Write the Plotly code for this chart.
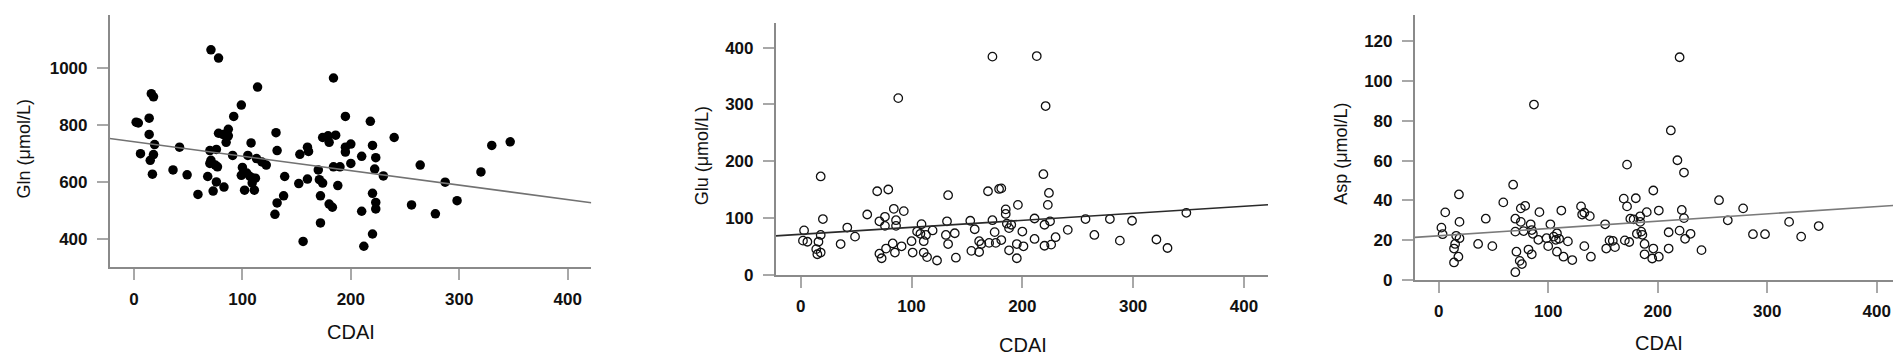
import numpy as np
import plotly.graph_objects as go

# ---------------- data ----------------
gln_cdai = [2, 4, 6, 14, 14, 16, 18, 19, 18, 15, 17, 36, 42, 49, 59, 71, 78, 68, 70, 71,
            70, 73, 76, 75, 77, 76, 78, 82, 83, 85, 87, 87, 91, 92, 99, 99, 100, 102, 104, 105,
            107, 108, 109, 110, 111, 112, 114, 113, 118, 122, 130, 131, 132, 132, 138, 139, 152, 153, 156, 160,
            161, 160, 170, 171, 174, 172, 172, 174, 179, 180, 180, 183, 184, 186, 184, 188, 190, 195, 195, 195,
            200, 200, 210, 210, 212, 218, 220, 220, 220, 222, 223, 223, 223, 230, 240, 256, 264, 278, 287, 298,
            320, 330, 347]
gln = [811, 808, 700, 825, 768, 911, 900, 732, 697, 677, 628, 643, 723, 626, 557, 1065, 1036, 620, 711, 677,
       666, 569, 715, 660, 654, 601, 772, 768, 583, 740, 786, 763, 694, 831, 871, 624, 652, 572, 632, 694,
       620, 738, 597, 614, 572, 614, 934, 683, 671, 660, 487, 774, 711, 527, 552, 620, 595, 698, 392, 723,
       708, 611, 643, 609, 597, 552, 457, 757, 763, 740, 523, 512, 966, 765, 654, 588, 654, 831, 723, 706,
       734, 666, 691, 498, 375, 814, 729, 561, 418, 646, 686, 529, 506, 622, 757, 520, 660, 489, 600, 535,
       636, 729, 742]

glu_cdai = [3, 2, 6, 18, 20, 18, 16, 14, 15, 18, 36, 42, 49, 60, 69, 71, 71, 73, 76, 76,
            77, 79, 83, 84, 86, 86, 85, 88, 91, 93, 100, 101, 105, 109, 108, 111, 111, 114, 113, 119,
            123, 131, 132, 133, 133, 139, 140, 153, 154, 157, 161, 161, 163, 169, 170, 173, 173, 175, 176, 179,
            181, 181, 185, 185, 186, 188, 190, 188, 196, 195, 195, 200, 201, 211, 211, 213, 219, 221, 220, 220,
            223, 224, 225, 226, 230, 241, 257, 265, 279, 288, 299, 321, 331, 348]
glu = [78, 60, 58, 173, 98, 70, 58, 45, 36, 39, 54, 83, 67, 106, 147, 94, 37, 29, 102, 86,
       46, 150, 55, 116, 86, 96, 39, 311, 50, 112, 59, 39, 76, 89, 72, 59, 39, 31, 70, 78,
       25, 70, 94, 54, 140, 73, 30, 95, 42, 80, 59, 40, 54, 147, 56, 384, 96, 75, 56, 151,
       152, 61, 115, 107, 90, 82, 88, 43, 123, 54, 29, 76, 50, 99, 63, 385, 177, 297, 88, 51,
       123, 144, 94, 53, 66, 79, 98, 70, 98, 60, 95, 62, 47, 109]

asp_cdai = [2.5, 3.6, 6, 14, 14, 15, 16, 18, 18.5, 19, 19, 36, 43, 49, 59, 68, 70, 70, 71, 70,
            74, 76, 75, 75, 77.5, 79, 82, 84, 85, 85, 86, 87, 91, 92, 98.5, 100, 102, 105, 107, 108,
            108, 110, 112, 114, 118, 122, 130, 131, 133, 133, 138, 139, 152, 153, 156, 159, 161, 169, 170, 172,
            172, 174, 175, 178, 180, 181, 184, 184, 185, 186, 188, 188, 190, 196, 196, 195, 201, 201, 210, 210,
            212, 218, 220, 220, 222, 224, 224, 225, 230, 240, 256, 264, 278, 287, 298, 320, 331, 347]
asp = [26.3, 23, 34, 8.8, 15.8, 18.1, 22.2, 11.7, 43, 29.2, 21, 18.1, 30.8, 17, 39, 47.9, 30.8, 24.3, 14.2, 3.9,
       9.6, 8, 36, 29.2, 24.6, 37.3, 15.3, 28, 12.9, 25.1, 23.2, 88.2, 20.2, 34.1, 21, 17, 28, 21.8, 20.2, 14.2,
       23.5, 20.7, 34.9, 11.7, 19.4, 10, 37, 32.9, 17, 33.8, 32.1, 11.7, 28, 15.8, 19.9, 19.7, 16.5, 40.9, 19.9, 58,
       37, 19.1, 30.8, 30.5, 41.1, 23.2, 32, 29.2, 24.3, 22.7, 18.1, 12.9, 34.1, 45, 15.8, 10.8, 34.9, 11.7, 24, 15.8,
       75.2, 60.2, 112, 24.8, 35.2, 54, 31.1, 20.7, 23.2, 15, 40.1, 30, 36, 23, 23, 29.2, 21.8, 27.1]

# fitted regression lines as drawn (intercept at CDAI=0, slope)
fit_intercepts = [742.0, 71.1, 22.2]
fit_slopes = [-0.508, 0.1234, 0.0368]

x_title = "CDAI"
y_titles = ["Gln (μmol/L)", "Glu (μmol/L)", "Asp (μmol/L)"]
x_ticks = [0, 100, 200, 300, 400]
y_ticks = [[400, 600, 800, 1000], [0, 100, 200, 300, 400], [0, 20, 40, 60, 80, 100, 120]]

# ---------------- layout geometry ----------------
W, H = 1901, 361
x_ranges = [[-22.4, 421.8], [-22.6, 421.7], [-21.9, 421.9]]
y_ranges = [[301, 1187], [0, 444], [0, 133.2]]
x_px = [(101.7, 583.3), (767.7, 1260.0), (1406.7, 1892.7)]
y_px = [(7.3, 266.7), (15.0, 274.3), (7.3, 279.7)]

fig = go.Figure()

xs = [gln_cdai, glu_cdai, asp_cdai]
ys = [gln, glu, asp]
line_colors = ["#727272", "#2a2a2a", "#7a7a7a"]

for i in range(3):
    xa = "x" if i == 0 else f"x{i+1}"
    ya = "y" if i == 0 else f"y{i+1}"
    if i == 0:
        marker = dict(symbol="circle", size=9.5, color="#000000", line=dict(width=0))
    else:
        marker = dict(symbol="circle-open", size=8.5, color="#111111", line=dict(width=1.3, color="#111111"))
    fig.add_trace(go.Scatter(x=xs[i], y=ys[i], mode="markers", marker=marker,
                             xaxis=xa, yaxis=ya, showlegend=False, hoverinfo="skip"))
    lx = np.array(x_ranges[i])
    ly = fit_intercepts[i] + fit_slopes[i] * lx
    fig.add_trace(go.Scatter(x=lx, y=ly, mode="lines",
                             line=dict(color=line_colors[i], width=1.6),
                             xaxis=xa, yaxis=ya, showlegend=False, hoverinfo="skip"))

tick_font = dict(family="Liberation Sans, Arial, sans-serif", size=17, color="#111111")
axis_common = dict(showline=True, linecolor="#8a8a8a", linewidth=1.6, ticks="outside",
                   ticklen=11, tickwidth=1.6, tickcolor="#a8a8a8", showgrid=False,
                   zeroline=False, tickfont=tick_font, fixedrange=True)

layout = dict(width=W, height=H, margin=dict(l=0, r=0, t=0, b=0),
              paper_bgcolor="white", plot_bgcolor="white", showlegend=False)

annotations = []
title_font_y = dict(family="Liberation Sans, Arial, sans-serif", size=18, color="#111111")
title_font_x = dict(family="Liberation Sans, Arial, sans-serif", size=20, color="#111111")
y_title_pos = [(15.5, 145), (694, 152.5), (1333, 150)]
x_title_pos = [(342.5, 333), (1015, 346.7), (1650.7, 345)]


def bold_labels(vals):
    return [f"<b>{v}</b>" for v in vals]


for i in range(3):
    xk = "xaxis" if i == 0 else f"xaxis{i+1}"
    yk = "yaxis" if i == 0 else f"yaxis{i+1}"
    ya = "y" if i == 0 else f"y{i+1}"
    xa = "x" if i == 0 else f"x{i+1}"
    x0, x1 = x_px[i]
    yt, yb = y_px[i]
    layout[xk] = dict(axis_common, domain=[x0 / W, x1 / W], range=x_ranges[i], anchor=ya,
                      tickvals=x_ticks, ticktext=bold_labels(x_ticks), ticklabelstandoff=4)
    layout[yk] = dict(axis_common, domain=[1 - yb / H, 1 - yt / H], range=y_ranges[i], anchor=xa,
                      tickvals=y_ticks[i], ticktext=bold_labels(y_ticks[i]), ticklabelstandoff=6)
    tx, ty = y_title_pos[i]
    annotations.append(dict(text=y_titles[i], xref="paper", yref="paper", x=tx / W, y=1 - ty / H,
                            xanchor="center", yanchor="middle", textangle=-90, showarrow=False,
                            font=title_font_y))
    cx, cy = x_title_pos[i]
    annotations.append(dict(text=x_title, xref="paper", yref="paper", x=cx / W, y=1 - cy / H,
                            xanchor="center", yanchor="middle", showarrow=False, font=title_font_x))

layout["annotations"] = annotations
fig.update_layout(**layout)
fig.write_html("out.html")
